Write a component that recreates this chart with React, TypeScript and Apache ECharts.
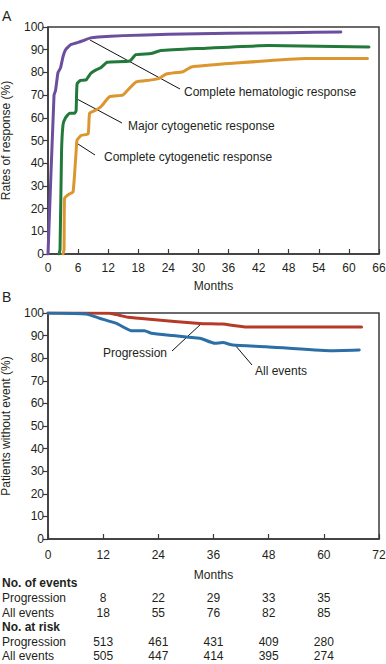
import React, { useEffect, useRef } from "react";
import * as echarts from "echarts";

// Panel A: response curves [month, %]
const hematologic: [number, number][] = [
  [0, 0], [1.2, 70], [1.5, 72], [2, 80], [2.5, 82], [3, 87], [3.5, 90], [4.5, 92.2], [6, 93.2], [7, 94], [8.5, 95.2], [10, 95.6], [15, 96.2], [24, 96.8], [36, 97.2], [48, 97.5], [58.4, 97.8],
];
const majorCyto: [number, number][] = [
  [2.2, 0], [2.4, 2], [2.7, 45], [3, 57], [3.5, 60], [4.3, 62], [5.3, 62], [5.6, 63], [5.8, 75], [6.5, 76.5], [7.6, 76.7], [8.5, 79.5], [9.5, 81], [10.5, 82], [11.8, 84.5], [16.3, 85], [17.5, 87.8], [20.5, 88.3], [22.5, 89.6], [30, 90.5], [44, 91.8], [64, 91.2],
];
const completeCyto: [number, number][] = [
  [3, 0], [3.2, 2], [3.3, 24.5], [4.3, 26.5], [5, 27.3], [5.6, 45], [5.8, 50.2], [6.6, 52.2], [8, 53], [8.3, 62], [9.6, 63.4], [10.6, 65], [12.3, 69.3], [14.9, 70], [15.9, 72.2], [17.6, 75.8], [20.3, 76.6], [22.2, 77.4], [23.6, 79.3], [26.9, 80.3], [28.6, 82.4], [36.9, 84], [51.5, 86.1], [63.7, 86.1],
];
const monthTicksA = [0, 6, 12, 18, 24, 30, 36, 42, 48, 54, 60, 66];

// Panel B: event-free curves [month, %]
const progression: [number, number][] = [
  [0, 100], [13.4, 99.9], [15.5, 99], [17.4, 98.1], [22.1, 97.2], [33, 95.4], [38, 95.1], [43.2, 93.8], [68.2, 93.8],
];
const allEvents: [number, number][] = [
  [0, 100], [8.3, 99.6], [11.2, 97.7], [14.9, 95.4], [16.3, 93.9], [18.1, 92.2], [21, 92.2], [22.5, 91], [27.2, 90], [33, 88.8], [33.7, 88.4], [36.3, 86.6], [38, 86.9], [40.2, 85.8], [47.5, 85.1], [61.3, 83.3], [67.7, 83.6],
];

// Table below panel B
const tableMonths = [12, 24, 36, 48, 60];
const eventsProgression = [8, 22, 29, 33, 35];
const eventsAll = [18, 55, 76, 82, 85];
const riskProgression = [513, 461, 431, 409, 280];
const riskAll = [505, 447, 414, 395, 274];

const FONT = "Liberation Sans, Arial, Helvetica, sans-serif";
const TXT = "#231f20";
const AXIS = "#3a3a3a";

export default function App() {
  const ref = useRef<HTMLDivElement>(null);
  useEffect(() => {
    if (!ref.current) return;
    const chart = echarts.init(ref.current, undefined, { renderer: "svg" });
    const axisLine = { show: true, lineStyle: { color: AXIS, width: 1.5 } };
    const labelStyle = { color: TXT, fontSize: 12, fontFamily: FONT };
    const lineSeries = (name: string, data: [number, number][], color: string, idx: number) => ({
      type: "line",
      name,
      data,
      xAxisIndex: idx,
      yAxisIndex: idx,
      showSymbol: false,
      symbol: "none",
      lineStyle: { color, width: 3, join: "round", cap: "round" },
      smooth: 0.15,
    });
    const lastA = monthTicksA[monthTicksA.length - 1];
    const option: any = {
      animation: false,
      textStyle: { fontFamily: FONT },
      grid: [
        { left: 48, top: 27, width: 331, height: 227, show: true, borderColor: AXIS, borderWidth: 1.5, backgroundColor: "transparent", containLabel: false, outerBoundsMode: "none" },
        { left: 48, top: 313, width: 331, height: 226, show: true, borderColor: AXIS, borderWidth: 1.5, backgroundColor: "transparent", containLabel: false, outerBoundsMode: "none" },
      ],
      xAxis: [
        {
          type: "value", gridIndex: 0, min: 0, max: lastA, interval: 6,
          name: "Months", nameLocation: "middle", nameGap: 26, nameTextStyle: labelStyle,
          axisLine, axisTick: { show: true, inside: true, length: 5, lineStyle: { color: AXIS, width: 1.2 }, customValues: monthTicksA },
          axisLabel: { ...labelStyle, margin: 8, hideOverlap: false, customValues: monthTicksA.slice(0, -1) }, splitLine: { show: false },
        },
        {
          type: "value", gridIndex: 1, min: 0, max: 72, interval: 12,
          name: "Months", nameLocation: "middle", nameGap: 30, nameTextStyle: labelStyle,
          axisLine, axisTick: { show: true, inside: true, length: 5, lineStyle: { color: AXIS, width: 1.2 } },
          axisLabel: { ...labelStyle, margin: 10, showMaxLabel: true, hideOverlap: false }, splitLine: { show: false },
        },
      ],
      yAxis: [
        {
          type: "value", gridIndex: 0, min: 0, max: 100, interval: 10,
          name: "Rates of response (%)", nameLocation: "middle", nameGap: 36, nameTextStyle: labelStyle,
          axisLine, axisTick: { show: true, inside: false, length: 5, lineStyle: { color: AXIS, width: 1.2 } },
          axisLabel: { ...labelStyle, margin: 4 }, splitLine: { show: false },
        },
        {
          type: "value", gridIndex: 1, min: 0, max: 100, interval: 10,
          name: "Patients without event (%)", nameLocation: "middle", nameGap: 36, nameTextStyle: labelStyle,
          axisLine, axisTick: { show: true, inside: false, length: 5, lineStyle: { color: AXIS, width: 1.2 } },
          axisLabel: { ...labelStyle, margin: 4 }, splitLine: { show: false },
        },
      ],
      series: [
        lineSeries("Complete cytogenetic response", completeCyto, "#dc962f", 0),
        lineSeries("Major cytogenetic response", majorCyto, "#22793a", 0),
        lineSeries("Complete hematologic response", hematologic, "#6b4f9e", 0),
        lineSeries("Progression", progression, "#b63a28", 1),
        lineSeries("All events", allEvents, "#2b6fa6", 1),
      ],
    };
    chart.setOption(option);

    const txt = (x: number, y: number, text: string, align = "left", bold = false, size = 12, vAlign = "middle") => ({
      type: "text", x, y,
      style: { text, x: 0, y: 0, fill: TXT, font: `${bold ? "bold " : ""}${size}px ${FONT}`, align, verticalAlign: vAlign },
    });
    const ln = (x1: number, y1: number, x2: number, y2: number) => ({
      type: "line", shape: { x1, y1, x2, y2 }, style: { stroke: "#111", lineWidth: 1 },
    });
    const colX = tableMonths.map((m) => (chart.convertToPixel({ gridIndex: 1 }, [m, 0]) as number[])[0]);
    const lastPos = chart.convertToPixel({ gridIndex: 0 }, [lastA, 0]) as number[];
    const rowY = [583, 598, 613, 627, 642, 656];
    const graphic: any[] = [
      txt(lastPos[0], lastPos[1] + 8, String(lastA), "center", false, 12, "top"),
      txt(2, 16, "A", "left", false, 14),
      txt(2, 297, "B", "left", false, 14),
      ln(90, 40, 180, 89), txt(184, 92, "Complete hematologic response"),
      ln(77, 99, 122, 123), txt(128, 126, "Major cytogenetic response"),
      ln(78, 144, 95, 155), txt(104, 157, "Complete cytogenetic response"),
      ln(172, 351, 202, 323), txt(167, 353, "Progression", "right"),
      ln(235, 345, 252, 365), txt(255, 371, "All events"),
      txt(2, rowY[0], "No. of events", "left", true),
      txt(2, rowY[1], "Progression"),
      txt(2, rowY[2], "All events"),
      txt(2, rowY[3], "No. at risk", "left", true),
      txt(2, rowY[4], "Progression"),
      txt(2, rowY[5], "All events"),
    ];
    const rows = [eventsProgression, eventsAll, riskProgression, riskAll];
    const rowIdx = [1, 2, 4, 5];
    rows.forEach((vals, r) => {
      vals.forEach((v, c) => graphic.push(txt(colX[c], rowY[rowIdx[r]], String(v), "center")));
    });
    chart.setOption({ graphic });
    return () => chart.dispose();
  }, []);
  return <div ref={ref} style={{ position: "fixed", left: 0, top: 0, width: 386, height: 664, background: "#fff" }} />;
}
